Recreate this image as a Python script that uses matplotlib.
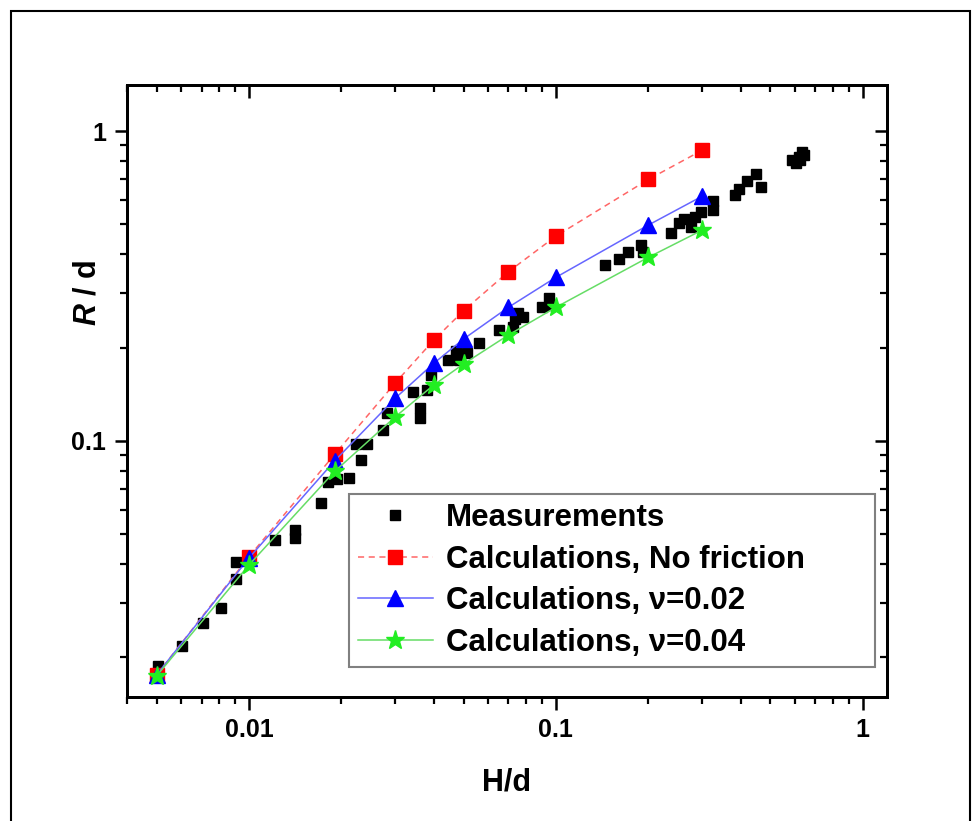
import matplotlib
matplotlib.use("Agg")
import matplotlib.pyplot as plt
from matplotlib.patches import Rectangle

plt.rcParams['font.family'] = ['Liberation Sans', 'DejaVu Sans']
plt.rcParams['font.weight'] = 'bold'
plt.rcParams['mathtext.fontset'] = 'custom'
plt.rcParams['mathtext.it'] = 'Liberation Sans:italic:bold'
plt.rcParams['mathtext.rm'] = 'Liberation Sans:bold'

# ---- data ----
meas_x = [0.00505, 0.00606, 0.00709, 0.00807, 0.00907, 0.00907, 0.01215, 0.01411, 0.01411,
          0.01719, 0.01811, 0.01931, 0.02117, 0.0231, 0.02225, 0.02415, 0.02729, 0.0282,
          0.03618, 0.03618, 0.03425, 0.03813, 0.03919, 0.04437, 0.04735, 0.05131, 0.04843,
          0.0561, 0.0653, 0.07266, 0.07357, 0.07551, 0.07827, 0.09041, 0.0949, 0.09669,
          0.1442, 0.1605, 0.1713, 0.1898, 0.1916, 0.2375, 0.2513, 0.2623, 0.2758, 0.2848,
          0.2972, 0.3241, 0.3241, 0.3841, 0.3958, 0.4184, 0.4503, 0.4647, 0.5884, 0.6062,
          0.6199, 0.6338, 0.6434, 0.6245]
meas_y = [0.0188, 0.02182, 0.02588, 0.02893, 0.03588, 0.04072, 0.04793, 0.05163, 0.04866,
          0.0631, 0.07375, 0.07541, 0.07581, 0.08684, 0.09779, 0.09779, 0.1085, 0.1231,
          0.1278, 0.1187, 0.1442, 0.1461, 0.1633, 0.1825, 0.1956, 0.1918, 0.1825,
          0.2075, 0.2281, 0.2337, 0.247, 0.2582, 0.2518, 0.27, 0.2886, 0.2747,
          0.3696, 0.3865, 0.4072, 0.4288, 0.4081, 0.4677, 0.506, 0.5201, 0.4902, 0.5268,
          0.5492, 0.5945, 0.5561, 0.6239, 0.6485, 0.6896, 0.7265, 0.6597, 0.8063, 0.7886,
          0.8244, 0.8555, 0.8369, 0.8063]

calc_x = [0.005, 0.01, 0.019, 0.03, 0.04, 0.05, 0.07, 0.1, 0.2, 0.3]
nofric_y = [0.01758, 0.04233, 0.09046, 0.1542, 0.2117, 0.2632, 0.3516, 0.4584, 0.6984, 0.8684]
nu002_y = [0.01758, 0.04193, 0.0862, 0.1376, 0.1781, 0.2133, 0.2700, 0.3374, 0.4975, 0.6170]
nu004_y = [0.01745, 0.03981, 0.0797, 0.1198, 0.1516, 0.1772, 0.2197, 0.2700, 0.3915, 0.4795]

labels = ["Measurements", "Calculations, No friction",
          "Calculations, \u03bd=0.02", "Calculations, \u03bd=0.04"]
x_ticks = [0.01, 0.1, 1]
x_ticklabels = ["0.01", "0.1", "1"]
y_ticks = [0.1, 1]
y_ticklabels = ["0.1", "1"]

W, H = 979, 821
fig = plt.figure(figsize=(W / 100, H / 100), dpi=100)
ax = fig.add_axes([127 / W, 1 - 697 / H, 760 / W, 612 / H])

ax.set_xscale('log')
ax.set_yscale('log')
xlim = (0.004, 1.2)
ylim = (0.0149, 1.41)

h0, = ax.plot(meas_x, meas_y, linestyle='none', marker='s', ms=6.5, color='black',
              mec='black', zorder=3)
h1, = ax.plot(calc_x, nofric_y, linestyle=(0, (4, 3)), lw=1.1, color='#ff6666',
              marker='s', ms=10, mfc='#ff0000', mec='#ff0000', zorder=4)
h2, = ax.plot(calc_x, nu002_y, linestyle='-', lw=1.1, color='#6666ff',
              marker='^', ms=11, mfc='#0000ff', mec='#0000ff', zorder=5)
h3, = ax.plot(calc_x, nu004_y, linestyle='-', lw=1.1, color='#66dd66',
              marker='*', ms=14, mfc='#22ee22', mec='#22ee22', zorder=6)

ax.set_xlim(*xlim)
ax.set_ylim(*ylim)
ax.set_xticks(x_ticks)
ax.set_xticklabels(x_ticklabels)
ax.set_yticks(y_ticks)
ax.set_yticklabels(y_ticklabels)

for s in ax.spines.values():
    s.set_linewidth(2.0)
ax.tick_params(which='major', direction='out', length=9, width=1.8, labelsize=18, pad=6)
ax.tick_params(which='minor', direction='out', length=5, width=1.6)

# mirrored inward ticks on top/right
axt = ax.twiny()
axt.set_xscale('log')
axt.set_xlim(*xlim)
axt.tick_params(which='major', direction='in', length=9, width=1.8, labeltop=False)
axt.tick_params(which='minor', direction='in', length=5, width=1.6)
axr = ax.twinx()
axr.set_yscale('log')
axr.set_ylim(*ylim)
axr.tick_params(which='major', direction='in', length=9, width=1.8, labelright=False)
axr.tick_params(which='minor', direction='in', length=5, width=1.6)
for a in (axt, axr):
    for s in a.spines.values():
        s.set_linewidth(2.0)

ax.set_xlabel("H/d", fontsize=22, fontweight='bold')
ax.xaxis.set_label_coords(0.5, -0.115)
ax.set_ylabel("$R$ / d", fontsize=22, fontweight='bold')
ax.yaxis.set_label_coords(-0.032, 0.66)

leg = axr.legend([h0, h1, h2, h3], labels, loc='lower left',
                 bbox_to_anchor=(0.292, 0.049, 0.692, 0.28), mode='expand',
                 fontsize=22.5, frameon=True,
                 fancybox=False, edgecolor='#808080', framealpha=1,
                 handlelength=2.4, handletextpad=0.42, labelspacing=0.38,
                 borderpad=0.28, borderaxespad=0, numpoints=1)
leg.get_frame().set_linewidth(1.5)

# outer border frame
fig.patches.append(Rectangle((11 / W, -0.05), 959 / W, 1.05 - 11 / H,
                             transform=fig.transFigure, fill=False,
                             edgecolor='black', lw=1.5, clip_on=False))

fig.savefig("out.png", dpi=100)
